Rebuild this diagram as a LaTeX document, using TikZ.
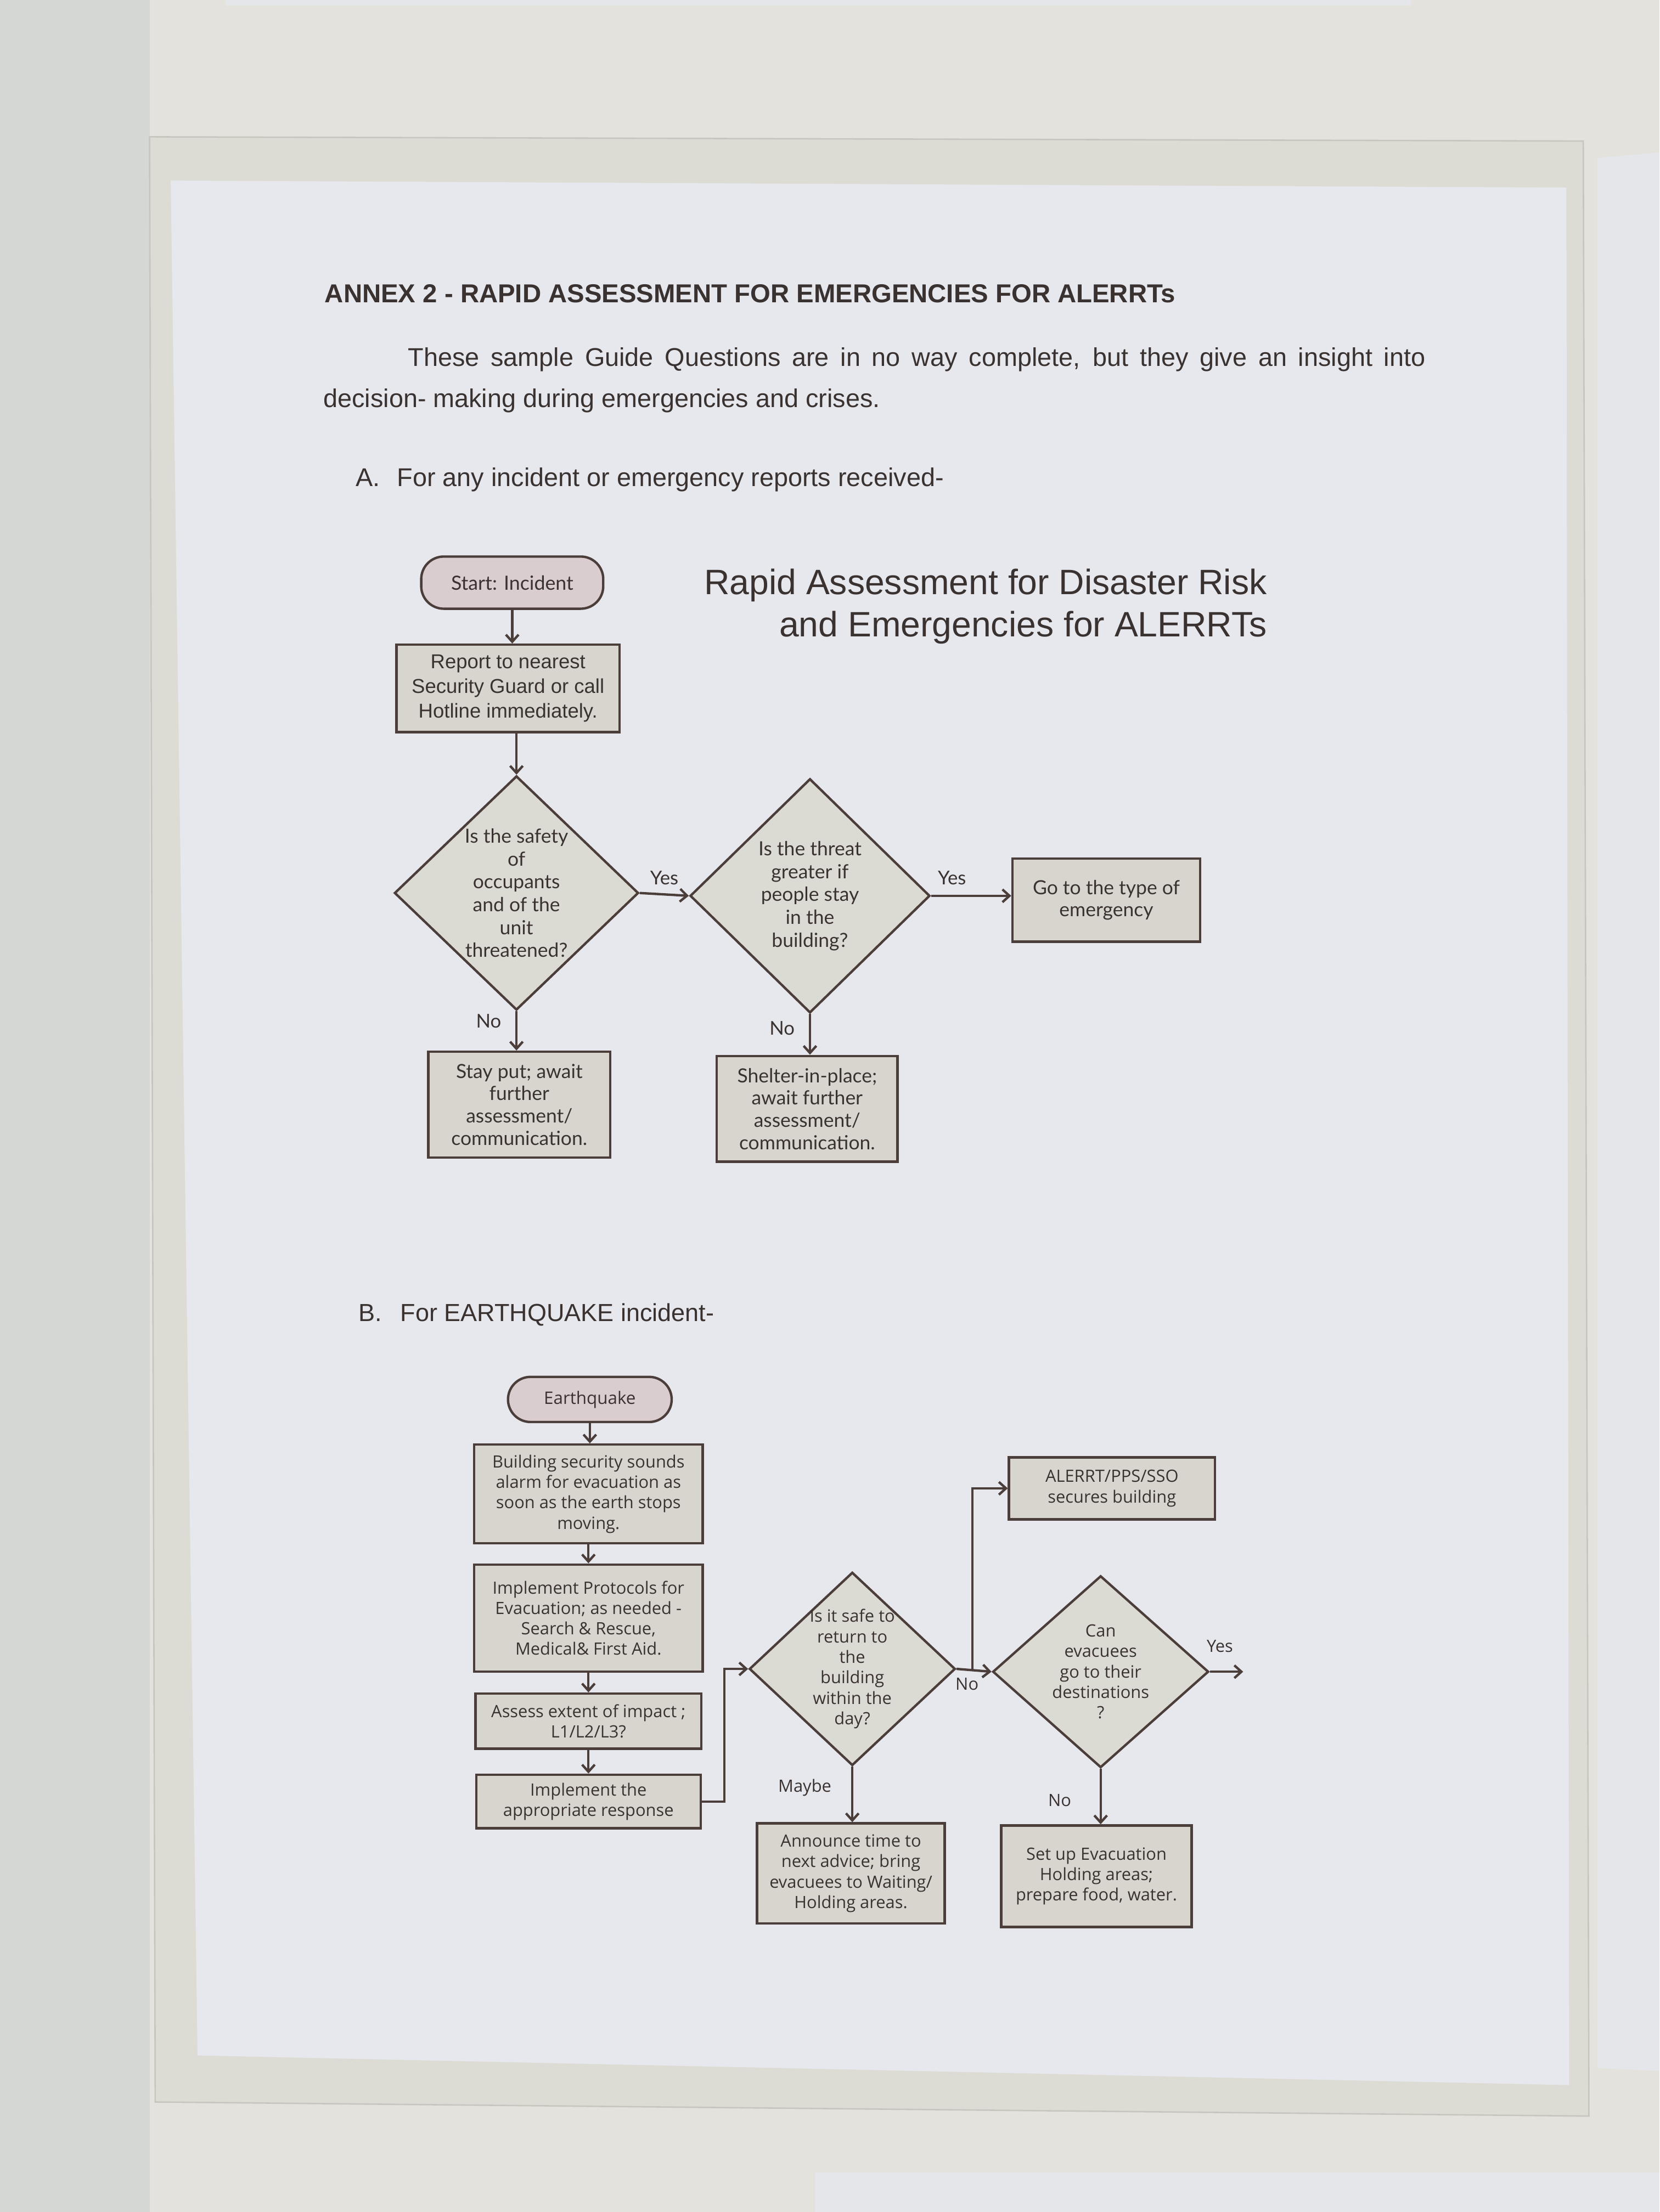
\documentclass[tikz,border=0pt]{standalone}
\usepackage{fontspec}
\setmainfont{Liberation Sans}
\newfontfamily\flowA{Lato}
\newfontfamily\flowB{Open Sans}
\usetikzlibrary{shapes.geometric,arrows.meta}

\definecolor{wall}{HTML}{E3E2DC}
\definecolor{wallshade}{HTML}{D5D7D4}
\definecolor{sheet}{HTML}{E4E6EA}
\definecolor{sleeve}{HTML}{DDDCD4}
\definecolor{sleeveedge}{HTML}{C6C6BF}
\definecolor{paper}{HTML}{E6E8EE}
\definecolor{ink}{HTML}{3A3230}
\definecolor{edge}{HTML}{4B3D3A}
\definecolor{boxfill}{HTML}{D8D5CE}
\definecolor{pillfill}{HTML}{D9CDCF}
\definecolor{diafill}{HTML}{DCDBD3}

\tikzset{
  heading/.style={font=\fontsize{18.4}{22}\selectfont\bfseries, text=ink, inner sep=0pt},
  body/.style={font=\fontsize{18.2}{22}\selectfont, text=ink, inner sep=0pt},
  title/.style={font=\fontsize{25}{30}\selectfont, text=ink, inner sep=0pt, align=right},
  chart/.style={draw=edge, line width=1.7pt, inner sep=0pt, align=center, text=ink},
  terminal/.style={chart, rectangle, rounded corners=16pt, fill=pillfill},
  procA/.style={chart, rectangle, fill=boxfill, font=\flowA\fontsize{13.8}{15.8}\selectfont},
  procB/.style={chart, rectangle, fill=boxfill, font=\flowB\fontsize{12}{14.5}\selectfont},
  decision/.style={chart, diamond, fill=diafill},
  dtextA/.style={align=center, text=ink, inner sep=0pt, font=\flowA\fontsize{13.8}{16.2}\selectfont},
  dtextB/.style={align=center, text=ink, inner sep=0pt, font=\flowB\fontsize{12}{14.5}\selectfont},
  lblA/.style={text=ink, inner sep=0pt, font=\flowA\fontsize{13.5}{15}\selectfont},
  lblB/.style={text=ink, inner sep=0pt, font=\flowB\fontsize{12}{14}\selectfont},
  flow/.style={draw=edge, line width=1.7pt, -{Straight Barb[length=5pt,width=9pt]}}
}

\begin{document}
\begin{tikzpicture}[x=1pt,y=-1pt]
\useasboundingbox (0,0) rectangle (1176,1568);
% wall, neighbouring sheets and the sleeve
\fill[wall] (0,0) rectangle (1176,1568);
\fill[wallshade] (0,0) rectangle (106,1568);
\fill[sheet] (160,0) rectangle (1000,4);
\fill[sheet] (1132,112) -- (1176,108) -- (1176,1468) -- (1132,1466) -- cycle;
\fill[sheet] (578,1540) rectangle (1176,1568);
\filldraw[fill=sleeve, draw=sleeveedge, line width=1pt] (106,97) -- (1122,100) -- (1126,1500) -- (110,1490) -- cycle;
\fill[paper] (121,128) -- (1110,133) -- (1112,1478) -- (140,1457) -- cycle;

% page text
\node[heading, anchor=west] (annex) at (230,208) {ANNEX 2 - RAPID ASSESSMENT FOR EMERGENCIES FOR ALERRTs};
\node[body, anchor=west] (introa) at (289,255) {\makebox[721pt][s]{These sample Guide Questions are in no way complete, but they give an insight into}};
\node[body, anchor=west] (introb) at (229,284) {decision- making during emergencies and crises.};
\node[body, anchor=west] (parta) at (252,340) {A.\hspace{12pt}For any incident or emergency reports received-};
\node[body, font=\fontsize{17.5}{22}\selectfont, anchor=west] (partb) at (254,932) {B.\hspace{13pt}For EARTHQUAKE incident-};
\node[title, anchor=east] (rapid) at (898,430) {Rapid Assessment for Disaster Risk\\and Emergencies for ALERRTs};

% A: any incident
\node[terminal, font=\flowA\fontsize{13.9}{15}\selectfont, minimum width=129pt, minimum height=37pt] (start) at (363,413) {Start: Incident};
\node[procA, font=\fontsize{14.2}{17.5}\selectfont, minimum width=158pt, minimum height=62pt] (report) at (360,488) {Report to nearest\\Security Guard or call\\Hotline immediately.};
\node[decision, minimum width=173pt, minimum height=166pt,
  label={[dtextA]center:Is the safety\\of\\occupants\\and of the\\unit\\threatened?}] (safety) at (366,633) {};
\node[decision, minimum width=170pt, minimum height=166pt,
  label={[dtextA]center:Is the threat\\greater if\\people stay\\in the\\building?}] (threat) at (574,635) {};
\node[procA, minimum width=133pt, minimum height=59pt] (gotype) at (784,638) {Go to the type of\\emergency};
\node[procA, minimum width=129pt, minimum height=75pt] (stay) at (368,783) {Stay put; await\\further\\assessment/\\communication.};
\node[procA, minimum width=128pt, minimum height=75pt] (shelter) at (572,786) {Shelter-in-place;\\await further\\assessment/\\communication.};

\draw[flow] (start) -- (start |- report.north);
\draw[flow] (report.south -| safety.north) -- (safety.north);
\draw[flow] (safety.east) -- node[lblA, above=6pt] {Yes} (threat.west);
\draw[flow] (threat.east) -- node[lblA, above=7pt, pos=0.26] {Yes} (threat.east -| gotype.west);
\draw[flow] (safety.south) -- node[lblA, left=10pt, pos=0.25] {No} (safety.south |- stay.north);
\draw[flow] (threat.south) -- node[lblA, left=10pt, pos=0.35] {No} (threat.south |- shelter.north);

% B: earthquake
\node[terminal, font=\flowB\fontsize{12.2}{14}\selectfont, minimum width=116pt, minimum height=32pt] (quake) at (418,992) {Earthquake};
\node[procB, minimum width=162pt, minimum height=70pt] (alarm) at (417,1059) {Building security sounds\\alarm for evacuation as\\soon as the earth stops\\moving.};
\node[procB, minimum width=162pt, minimum height=76pt] (protocol) at (417,1147) {Implement Protocols for\\Evacuation; as needed -\\Search \& Rescue,\\Medical\& First Aid.};
\node[procB, minimum width=160pt, minimum height=39pt] (assess) at (417,1220) {Assess extent of impact ;\\L1/L2/L3?};
\node[procB, minimum width=159pt, minimum height=38pt] (respond) at (417,1277) {Implement the\\appropriate response};
\node[decision, minimum width=146pt, minimum height=137pt,
  label={[dtextB]center:Is it safe to\\return to\\the\\building\\within the\\day?}] (returnday) at (604,1183) {};
\node[procB, minimum width=133pt, minimum height=71pt] (announce) at (603,1328) {Announce time to\\next advice; bring\\evacuees to Waiting/\\Holding areas.};
\node[procB, minimum width=146pt, minimum height=44pt] (secure) at (788,1055) {ALERRT/PPS/SSO\\secures building};
\node[decision, minimum width=153pt, minimum height=136pt,
  label={[dtextB]center:Can\\evacuees\\go to their\\destinations\\?}] (destin) at (780,1185) {};
\node[procB, minimum width=135pt, minimum height=72pt] (holding) at (777,1330) {Set up Evacuation\\Holding areas;\\prepare food, water.};
\coordinate (split) at (689,1184);
\coordinate (yesend) at (881,1185);

\draw[flow] (quake) -- (quake |- alarm.north);
\draw[flow] (alarm) -- (alarm |- protocol.north);
\draw[flow] (protocol) -- (protocol |- assess.north);
\draw[flow] (assess) -- (assess |- respond.north);
\draw[flow] (respond.east) -- ++(16,0) |- (returnday.west);
\draw[flow] (returnday.east) -- node[lblB, below=5pt, pos=0.3] {No} (destin.west);
\draw[flow] (split) |- (secure.west);
\draw[flow] (destin.east) -- node[lblB, above=13pt, pos=0.3] {Yes} (yesend);
\draw[flow] (returnday.south) -- node[lblB, left=14pt, pos=0.38] {Maybe} (returnday.south |- announce.north);
\draw[flow] (destin.south) -- node[lblB, left=20pt, pos=0.57] {No} (destin.south |- holding.north);
\end{tikzpicture}
\end{document}
